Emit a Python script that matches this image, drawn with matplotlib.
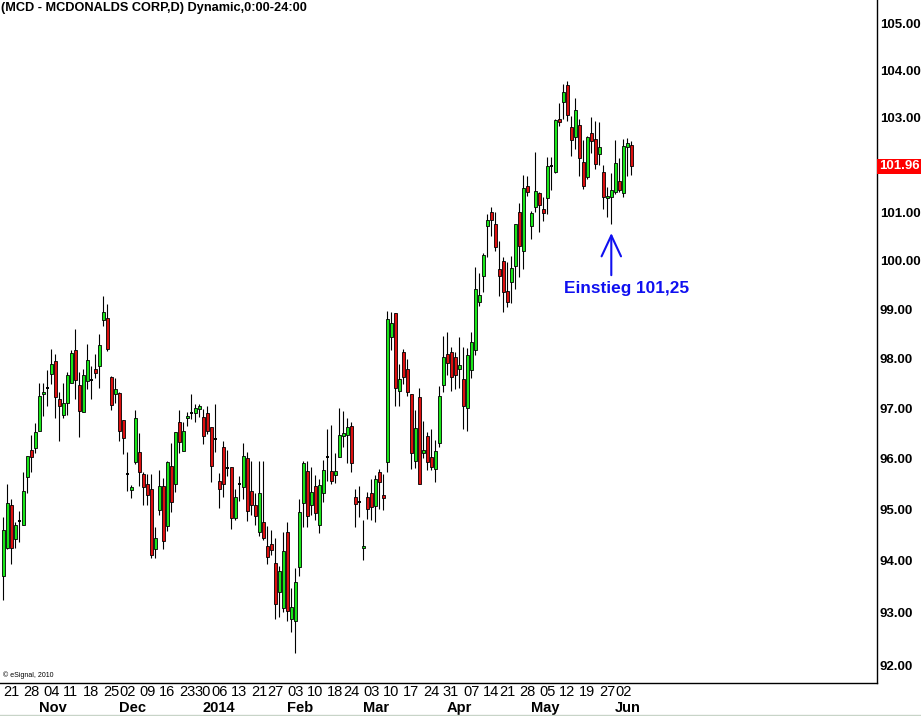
import numpy as np
import pandas as pd
import matplotlib
matplotlib.use("Agg")
import matplotlib.pyplot as plt
from matplotlib.patches import Rectangle
import matplotlib.transforms as mtransforms
from matplotlib import font_manager
from matplotlib.ticker import NullLocator, NullFormatter, FixedLocator, FixedFormatter

# ---------------- data ----------------
title = "(MCD - MCDONALDS CORP,D) Dynamic,0:00-24:00"

opens = [93.71, 94.24, 95.08, 94.43, 94.78, 94.70, 95.63, 96.18, 96.22, 96.54,
         97.28, 97.40, 97.68, 97.96, 97.18, 96.86, 97.10, 97.50, 98.18, 97.46,
         96.92, 97.54, 97.56, 97.80, 97.86, 98.78, 98.82, 97.62, 97.28, 97.30,
         96.76, 95.69, 95.38, 95.94, 96.14, 95.69, 95.49, 95.41, 94.22, 94.98,
         95.45, 94.67, 95.86, 95.49, 96.72, 96.16, 96.80, 96.90, 96.90, 96.98,
         96.82, 96.90, 96.62, 96.38, 95.55, 96.24, 95.82, 95.84, 94.84, 95.49,
         95.43, 96.02, 95.37, 95.08, 94.55, 94.75, 94.29, 94.33, 93.96, 93.40,
         93.08, 94.55, 92.88, 92.83, 93.88, 95.12, 95.76, 95.08, 95.45, 94.69,
         95.33, 96.04, 95.76, 95.67, 96.04, 96.44, 96.46, 96.64, 95.25, 95.14,
         94.25, 95.25, 95.33, 95.06, 95.73, 95.29, 95.94, 98.44, 98.92, 97.34,
         98.14, 97.80, 97.28, 95.96, 97.22, 96.12, 96.44, 96.04, 95.80, 96.30,
         97.46, 98.10, 98.14, 98.04, 97.80, 97.58, 97.00, 97.76, 98.18, 99.16,
         99.68, 100.72, 101.00, 100.76, 99.82, 100.00, 99.37, 99.55, 99.88, 101.00,
         100.20, 101.54, 100.71, 101.12, 101.40, 101.06, 101.29, 101.98, 101.85, 102.96,
         103.33, 103.69, 102.79, 102.58, 102.83, 102.06, 101.73, 102.66, 102.53, 102.23,
         101.85, 101.29, 101.31, 101.42, 101.65, 101.40, 102.36, 102.42]
highs = [94.86, 95.49, 95.20, 94.76, 94.96, 95.73, 96.06, 96.46, 96.70, 97.50,
         97.50, 97.76, 98.20, 98.10, 97.32, 97.50, 97.72, 98.18, 98.60, 97.72,
         97.80, 98.30, 97.86, 98.10, 98.50, 99.28, 99.10, 97.64, 97.60, 97.32,
         96.76, 96.14, 95.48, 96.96, 96.50, 95.73, 95.69, 95.69, 94.65, 95.78,
         95.61, 95.96, 96.30, 96.52, 96.96, 96.72, 96.92, 97.28, 97.08, 97.08,
         96.98, 97.04, 96.62, 97.08, 95.71, 96.34, 96.18, 95.84, 95.41, 95.65,
         96.30, 96.14, 95.96, 95.33, 95.96, 95.96, 94.67, 94.59, 94.45, 93.90,
         94.55, 94.75, 93.48, 93.85, 95.20, 95.96, 95.96, 95.84, 95.67, 95.59,
         95.98, 96.58, 96.66, 96.12, 97.00, 96.94, 96.80, 96.72, 95.41, 95.45,
         94.80, 95.35, 95.59, 95.67, 95.80, 95.69, 98.96, 98.94, 98.92, 97.90,
         98.20, 98.00, 97.28, 96.96, 97.40, 96.74, 96.52, 96.58, 96.36, 97.44,
         98.46, 98.54, 98.24, 98.14, 98.44, 98.24, 98.22, 98.54, 99.86, 99.75,
         100.16, 100.96, 101.12, 101.00, 100.40, 100.08, 99.98, 100.10, 100.76, 101.19,
         101.79, 101.75, 101.02, 102.27, 101.42, 101.31, 102.15, 102.15, 102.96, 103.31,
         103.71, 103.77, 103.02, 103.40, 102.96, 102.51, 102.60, 103.00, 102.92, 102.90,
         102.00, 101.52, 101.83, 102.51, 102.13, 102.53, 102.55, 102.49]
lows = [93.25, 94.22, 93.94, 94.25, 94.37, 94.70, 95.33, 95.73, 96.12, 96.54,
        96.84, 97.04, 97.48, 96.80, 96.34, 96.80, 96.86, 97.50, 97.18, 96.42,
        96.92, 97.38, 97.18, 97.60, 97.40, 98.66, 98.16, 96.96, 97.10, 96.34,
        96.10, 95.37, 95.22, 95.90, 95.45, 95.08, 95.08, 94.06, 94.06, 94.90,
        94.22, 94.57, 94.94, 95.35, 96.12, 96.16, 96.64, 96.78, 96.72, 96.82,
        96.28, 96.48, 95.53, 96.14, 95.02, 95.25, 95.65, 94.61, 94.80, 95.16,
        95.20, 94.78, 94.90, 94.69, 94.49, 94.41, 93.94, 94.12, 92.88, 92.92,
        93.02, 92.83, 92.62, 92.23, 93.71, 94.65, 94.65, 94.90, 94.80, 94.53,
        95.14, 95.55, 95.49, 95.51, 96.04, 96.24, 95.92, 95.73, 94.65, 94.86,
        94.02, 94.82, 94.80, 94.76, 95.00, 94.98, 95.73, 98.18, 97.04, 97.04,
        97.48, 97.24, 95.80, 95.82, 95.49, 96.02, 95.78, 95.78, 95.53, 96.24,
        97.32, 97.66, 97.34, 97.38, 97.40, 96.58, 96.54, 97.60, 98.08, 99.06,
        99.35, 100.08, 100.50, 100.20, 99.28, 98.94, 99.04, 99.14, 99.41, 99.67,
        99.82, 101.34, 100.44, 101.00, 100.60, 100.81, 100.96, 101.46, 101.83, 102.81,
        102.96, 102.92, 102.17, 102.32, 101.75, 101.48, 101.69, 102.25, 101.90, 102.00,
        101.08, 100.90, 100.75, 101.38, 101.42, 101.31, 101.75, 101.79]
closes = [94.59, 95.12, 94.24, 94.69, 94.78, 95.37, 96.06, 96.04, 96.52, 97.24,
          97.32, 97.40, 97.90, 97.22, 97.04, 97.10, 97.66, 98.12, 97.56, 96.94,
          97.66, 97.98, 97.56, 97.70, 98.28, 98.94, 98.20, 97.06, 97.38, 96.54,
          96.40, 95.69, 95.43, 96.80, 95.73, 95.43, 95.29, 94.12, 94.45, 95.45,
          94.39, 95.94, 95.14, 96.52, 96.32, 96.54, 96.84, 96.90, 97.00, 97.04,
          96.44, 96.54, 95.86, 96.38, 95.41, 95.49, 95.82, 94.84, 95.24, 95.49,
          96.06, 94.96, 95.08, 94.88, 95.33, 94.45, 94.08, 94.20, 93.17, 93.81,
          94.18, 93.04, 93.10, 93.58, 94.94, 95.92, 94.88, 95.35, 94.92, 95.47,
          95.78, 96.04, 95.55, 95.76, 96.46, 96.50, 96.62, 95.92, 95.10, 95.14,
          94.29, 95.00, 95.04, 95.59, 95.53, 95.22, 98.80, 98.72, 97.40, 97.58,
          97.62, 97.32, 96.12, 96.60, 95.49, 96.18, 95.94, 95.84, 96.16, 97.24,
          98.04, 97.92, 97.62, 97.66, 97.88, 97.04, 98.08, 98.34, 99.42, 99.30,
          100.12, 100.84, 100.84, 100.28, 99.68, 99.35, 99.16, 99.84, 100.76, 100.31,
          101.50, 101.42, 100.98, 101.44, 101.15, 100.98, 101.96, 101.98, 102.94, 102.90,
          103.54, 103.04, 102.51, 103.15, 102.13, 101.54, 102.58, 102.49, 102.02, 102.36,
          101.33, 101.35, 101.46, 102.04, 101.46, 102.40, 102.45, 101.96]

first_day = "2013-10-21"
last_day = "2014-06-06"
holidays = ["2013-11-28", "2013-12-25", "2014-01-01", "2014-01-20",
            "2014-02-17", "2014-04-18", "2014-05-26"]

week_dates = ["2013-10-21", "2013-10-28", "2013-11-04", "2013-11-11", "2013-11-18",
              "2013-11-25", "2013-12-02", "2013-12-09", "2013-12-16", "2013-12-23",
              "2013-12-30", "2014-01-06", "2014-01-13", "2014-01-21", "2014-01-27",
              "2014-02-03", "2014-02-10", "2014-02-18", "2014-02-24", "2014-03-03",
              "2014-03-10", "2014-03-17", "2014-03-24", "2014-03-31", "2014-04-07",
              "2014-04-14", "2014-04-21", "2014-04-28", "2014-05-05", "2014-05-12",
              "2014-05-19", "2014-05-27", "2014-06-02"]
week_labels = ["21", "28", "04", "11", "18", "25", "02", "09", "16", "23", "30",
               "06", "13", "21", "27", "03", "10", "18", "24", "03", "10", "17",
               "24", "31", "07", "14", "21", "28", "05", "12", "19", "27", "02"]
month_dates = ["2013-11-01", "2013-12-02", "2014-01-02", "2014-02-03",
               "2014-03-03", "2014-04-01", "2014-05-01", "2014-06-02"]
month_labels = ["Nov", "Dec", "2014", "Feb", "Mar", "Apr", "May", "Jun"]

price_ticks = [92, 93, 94, 95, 96, 97, 98, 99, 100, 101, 103, 104, 105]
last_price = 101.96
entry_date = "2014-05-30"
entry_text = "Einstieg 101,25"
arrow_tip = 100.57
arrow_tail = 99.70
text_price = 99.42

# ---------------- layout ----------------
W, H = 921, 716
plt.rcParams['font.family'] = ['Liberation Sans', 'DejaVu Sans']
fig = plt.figure(figsize=(W / 100, H / 100), dpi=100)
fig.patch.set_facecolor('white')

ax_right_px = 877
ax_bottom_px = 683
ax = fig.add_axes([0, 1 - ax_bottom_px / H, ax_right_px / W, ax_bottom_px / H])
ax.set_facecolor('white')

dates = pd.bdate_range(first_day, last_day)
dates = dates[~dates.isin(pd.to_datetime(holidays))]
n = len(opens)
xs = np.arange(n)

GREEN = '#19e619'
RED = '#dc0f0f'
body_w = 0.72
for i in range(n):
    o, h, l, c = opens[i], highs[i], lows[i], closes[i]
    ax.vlines(xs[i], l, h, color='black', lw=0.8, zorder=2)
    if abs(c - o) < 1e-9:
        ax.hlines(o, xs[i] - 0.42, xs[i] + 0.42, color='black', lw=1.4, zorder=3)
    else:
        col = GREEN if c > o else RED
        ax.add_patch(Rectangle((xs[i] - body_w / 2, min(o, c)), body_w, abs(c - o),
                               facecolor=col, edgecolor='black', lw=0.6, zorder=3))

px_per_bar = 4.0
x0 = -3.3 / px_per_bar
ax.set_xlim(x0, x0 + ax_right_px / px_per_bar)
ax.set_yscale('log')
ax.set_ylim(91.66, 105.52)

for s in ['top', 'left']:
    ax.spines[s].set_visible(False)
for s in ['right', 'bottom']:
    ax.spines[s].set_color('black')
    ax.spines[s].set_linewidth(1.0)

ax.set_xticks([])
ax.yaxis.tick_right()
ax.yaxis.set_major_locator(FixedLocator(price_ticks))
ax.yaxis.set_major_formatter(FixedFormatter([f"{v:.2f}" for v in price_ticks]))
ax.yaxis.set_minor_locator(NullLocator())
ax.yaxis.set_minor_formatter(NullFormatter())
ax.tick_params(axis='y', length=0, pad=2, labelsize=9.5)
for t in ax.get_yticklabels():
    t.set_fontweight('bold')

trans_y = mtransforms.blended_transform_factory(ax.transAxes, ax.transData)
ax.text(1.0 + 2 / ax_right_px, last_price, f"{last_price:.2f}", transform=trans_y,
        ha='left', va='center', color='white', fontsize=9.5, fontweight='bold',
        bbox=dict(facecolor='#ff0000', edgecolor='none', pad=1.2), clip_on=False)

# date labels
names = {f.name for f in font_manager.fontManager.ttflist}
if 'Liberation Sans Narrow' in names:
    date_family = ['Liberation Sans Narrow', 'DejaVu Sans']
    week_kw = dict(fontsize=11, fontweight='bold')
    month_kw = dict(fontsize=11, fontweight='bold')
else:
    date_family = ['Liberation Sans', 'DejaVu Sans']
    week_kw = dict(fontsize=10.5)
    month_kw = dict(fontsize=10.5, fontweight='bold')

trans_x = mtransforms.blended_transform_factory(ax.transData, fig.transFigure)
for d, lab in zip(week_dates, week_labels):
    idx = dates.get_loc(pd.Timestamp(d))
    ax.text(idx - 0.1, 1 - 692 / H, lab, transform=trans_x, ha='left', va='center',
            family=date_family, clip_on=False, **week_kw)
for d, lab in zip(month_dates, month_labels):
    idx = dates.get_loc(pd.Timestamp(d))
    ax.text(idx - 0.1, 1 - 708 / H, lab, transform=trans_x, ha='left', va='center',
            family=date_family, clip_on=False, **month_kw)

# title & credit
fig.text(1 / W, 1 - 8 / H, title, ha='left', va='center', fontsize=9.2, fontweight='bold')
fig.text(3 / W, 1 - 675 / H, "\u00a9 eSignal, 2010", ha='left', va='center', fontsize=5)

# entry annotation
BLUE = '#1010f0'
e_idx = dates.get_loc(pd.Timestamp(entry_date))
ax.annotate('', xy=(e_idx, arrow_tip), xytext=(e_idx, arrow_tail),
            arrowprops=dict(arrowstyle='->,head_length=1.5,head_width=0.7', color=BLUE,
                            lw=1.5, shrinkA=0, shrinkB=0, mutation_scale=10))
ax.text(e_idx + 3.9, text_price, entry_text, ha='center', va='center', color=BLUE,
        fontsize=12.4, fontweight='bold')

# faint bottom line
fig.add_artist(plt.Line2D([0, 1], [1.5 / H, 1.5 / H], transform=fig.transFigure,
                          color='#c8d4c8', lw=1))

fig.savefig('out.png', dpi=100, facecolor='white')
